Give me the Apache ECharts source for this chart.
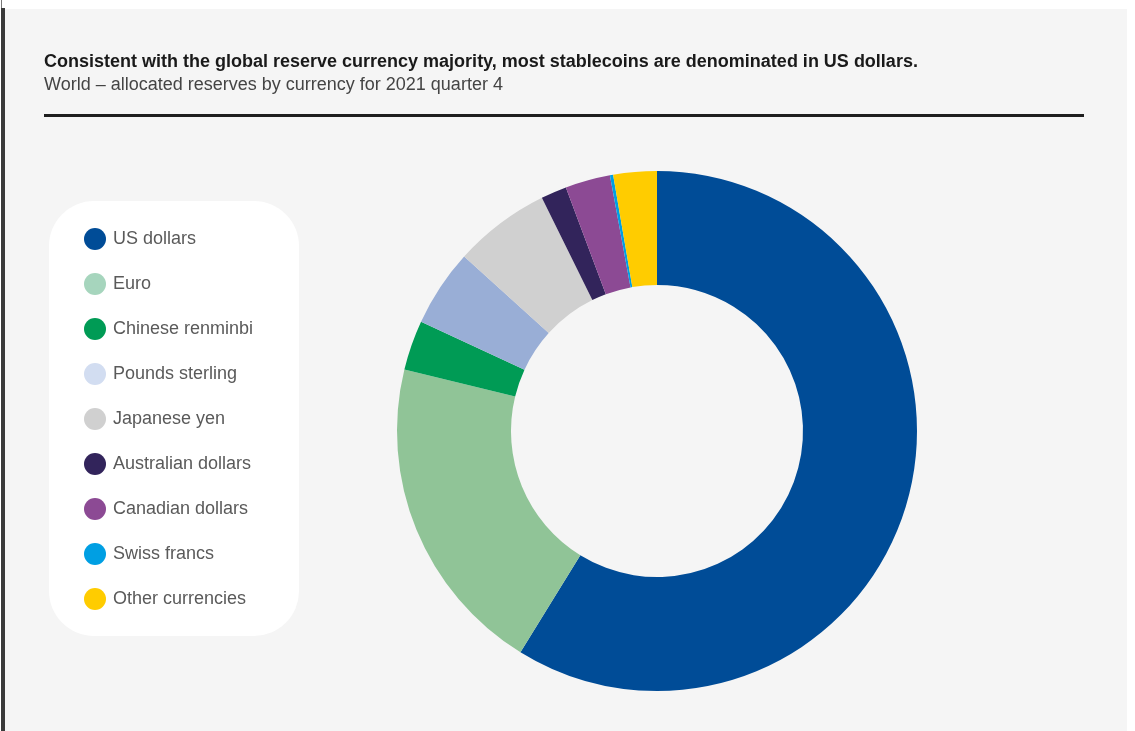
<!DOCTYPE html>
<html>
<head>
<meta charset="utf-8">
<script src="https://cdn.jsdelivr.net/npm/echarts@6/dist/echarts.min.js"></script>
<style>
html,body{margin:0;padding:0;background:#ffffff;}
#main{width:1135px;height:731px;}
</style>
</head>
<body>
<div id="main"></div>
<script>
// 数据
var currencies = ['US dollars','Euro','Chinese renminbi','Pounds sterling','Japanese yen','Australian dollars','Canadian dollars','Swiss francs','Other currencies'];
var shares = [58.8, 20.0, 3.1, 4.8, 6.0, 1.6, 2.8, 0.2, 2.7];
var sliceColors = ['#004C97','#90C497','#009B55','#99AED6','#D0D0D0','#32245B','#8C4A94','#009FE3','#FFCC00'];
var legendColors = ['#004C97','#A6D5BD','#009B55','#D2DDF1','#D0D0D0','#32245B','#8C4A94','#009FE3','#FFCC00'];

var pieData = [];
var legendData = [];
for(var i=0;i<currencies.length;i++){
	pieData.push({name:currencies[i], value:shares[i], itemStyle:{color:sliceColors[i]}});
	legendData.push({name:currencies[i], itemStyle:{color:legendColors[i]}});
}

var chart = echarts.init(document.getElementById('main'));
var option = {
	backgroundColor:'#ffffff',
	animation:false,
	graphic:[
		{type:'rect', z:-10, shape:{x:5,y:9,width:1122,height:722}, style:{fill:'#F5F5F5'}},
		{type:'rect', z:-10, shape:{x:1,y:8,width:4,height:723}, style:{fill:'#3a3a3a'}},
		{type:'rect', z:-10, shape:{x:1,y:0,width:1,height:8}, style:{fill:'#777777'}},
		{type:'line', z:-5, shape:{x1:44,y1:115.5,x2:1084,y2:115.5}, style:{stroke:'#1e1e1e',lineWidth:3}},
		{type:'rect', z:-5, shape:{x:49,y:201,width:250,height:435,r:45}, style:{fill:'#ffffff'}}
	],
	title:{
		text:'Consistent with the global reserve currency majority, most stablecoins are denominated in US dollars.',
		subtext:'World – allocated reserves by currency for 2021 quarter 4',
		left:44,
		top:53,
		padding:0,
		itemGap:5,
		textStyle:{fontFamily:'Liberation Sans',fontSize:18,fontWeight:'bold',color:'#1a1a1a'},
		subtextStyle:{fontFamily:'Liberation Sans',fontSize:18,color:'#444444'}
	},
	legend:{
		orient:'vertical',
		left:84,
		top:228,
		padding:0,
		icon:'circle',
		itemWidth:22,
		itemHeight:22,
		itemGap:23,
		selectedMode:false,
		textStyle:{fontFamily:'Liberation Sans',fontSize:18,color:'#5a5a5a',padding:[0,0,0,2]},
		data:legendData
	},
	series:[
		{
			type:'pie',
			center:[657,431],
			radius:[146,260],
			startAngle:90,
			clockwise:true,
			silent:true,
			label:{show:false},
			labelLine:{show:false},
			itemStyle:{borderWidth:0},
			data:pieData
		}
	]
};
chart.setOption(option);
</script>
</body>
</html>
